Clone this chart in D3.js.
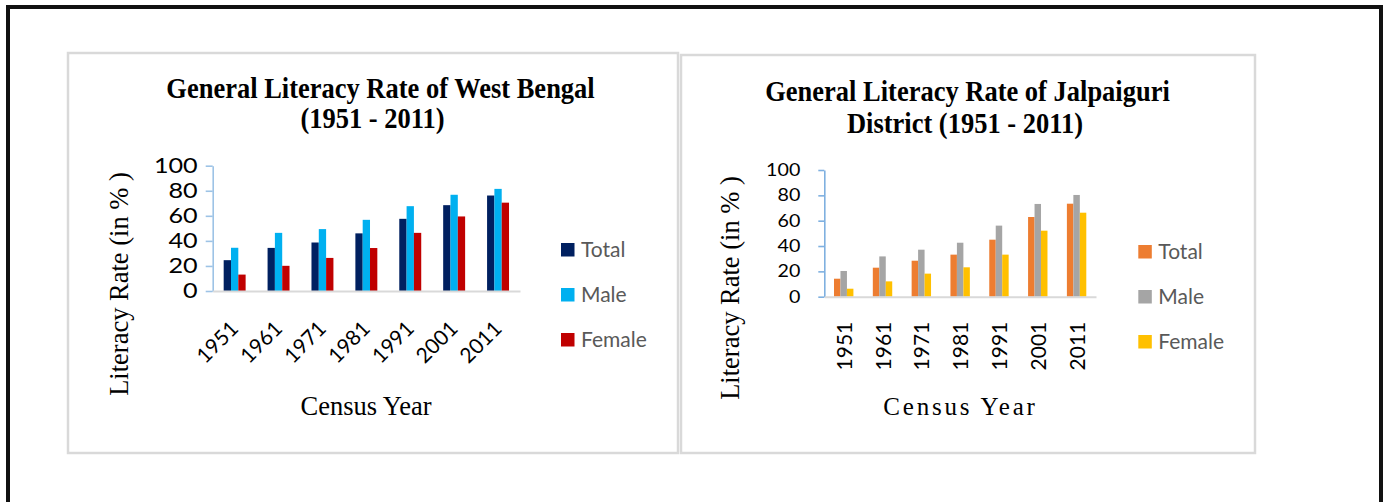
<!DOCTYPE html>
<html lang="en">
<head>
<meta charset="UTF-8" />
<title>Literacy rate charts</title>
<script src="https://d3js.org/d3.v7.min.js"></script>
<style>
    body { margin: 0; background: #fff; }
    .title { font-family: "Liberation Serif", "Times New Roman", serif; font-weight: bold; font-size: 26.5px; fill: #000; }
    .ytitle { font-family: "Liberation Serif", "Times New Roman", serif; font-size: 26.5px; fill: #000; }
    .tick text { font-family: Lato, "Open Sans", sans-serif; fill: #000; }
    .legend text { font-family: Lato, "Open Sans", sans-serif; font-size: 21px; fill: #595959; }
</style>
</head>
<body>
<script>
    // data
    var years = ["1951", "1961", "1971", "1981", "1991", "2001", "2011"];
    var series = ["Total", "Male", "Female"];
    var yTicks = [0, 20, 40, 60, 80, 100];

    // West Bengal
    var wbTotal  = [24.6, 34.4, 38.7, 46.0, 57.6, 68.5, 76.2];
    var wbMale   = [34.5, 46.4, 49.4, 56.8, 67.7, 76.8, 81.5];
    var wbFemale = [13.1, 20.1, 26.4, 34.3, 46.4, 59.5, 70.5];

    // Jalpaiguri district
    var jpTotal  = [14.2, 22.9, 28.4, 33.2, 45.0, 62.9, 73.4];
    var jpMale   = [20.3, 31.8, 37.1, 42.6, 56.1, 73.2, 80.3];
    var jpFemale = [6.3, 12.1, 18.2, 23.2, 33.2, 52.1, 66.3];

    var W = 1385, H = 502;
    var svg = d3.select("body").append("svg")
        .attr("width", W)
        .attr("height", H);

    svg.append("rect").attr("width", W).attr("height", H).attr("fill", "#fff");

    // outer black frame
    svg.append("rect")
        .attr("x", 8).attr("y", 7)
        .attr("width", 1373).attr("height", 600)
        .attr("fill", "none").attr("stroke", "#111").attr("stroke-width", 4);

    function drawChart(c) {
        var g = svg.append("g");

        // panel
        g.append("rect")
            .attr("x", c.panel[0]).attr("y", c.panel[1])
            .attr("width", c.panel[2]).attr("height", c.panel[3])
            .attr("fill", "#fff").attr("stroke", "#d9d9d9").attr("stroke-width", 2.5);

        var rows = years.map(function(y, i) {
            return { year: y, Total: c.values[0][i], Male: c.values[1][i], Female: c.values[2][i] };
        });

        var x = d3.scaleBand().domain(years)
            .range([c.x0, c.x1])
            .paddingInner(0.5).paddingOuter(0.25);
        var xs = d3.scaleBand().domain(series).range([0, x.bandwidth()]);
        var y = d3.scaleLinear().domain([0, 100]).range([c.y0, c.y1]);
        var color = d3.scaleOrdinal().domain(series).range(c.colors);

        // bars
        g.selectAll(".grp")
            .data(rows)
            .enter().append("g")
            .attr("transform", function(d) { return "translate(" + x(d.year) + ",0)"; })
            .selectAll("rect")
            .data(function(d) { return series.map(function(s) { return { key: s, value: d[s] }; }); })
            .enter().append("rect")
            .attr("x", function(d) { return xs(d.key); })
            .attr("y", function(d) { return y(d.value); })
            .attr("width", xs.bandwidth())
            .attr("height", function(d) { return y(0) - y(d.value); })
            .attr("fill", function(d) { return color(d.key); });

        // y axis
        var yAxis = g.append("g")
            .attr("transform", "translate(" + c.x0 + ",0)")
            .call(d3.axisLeft(y).tickValues(yTicks).tickSize(c.tickLen).tickSizeOuter(0).tickPadding(c.yPad));
        yAxis.select(".domain").attr("stroke", c.axisBlue).attr("stroke-width", 1.6);
        yAxis.selectAll(".tick line").attr("stroke", c.axisBlue).attr("stroke-width", 1.6);
        yAxis.selectAll(".tick text")
            .style("font-size", c.yFont + "px")
            .attr("textLength", function(d) { return String(d).length * c.digitW; })
            .attr("lengthAdjust", "spacingAndGlyphs");

        // x axis
        var xAxis = g.append("g")
            .attr("transform", "translate(0," + c.y0 + ")")
            .call(d3.axisBottom(x).tickSize(0).tickSizeOuter(0));
        xAxis.select(".domain").attr("stroke", "#d9d9d9").attr("stroke-width", 2);
        xAxis.selectAll(".tick text")
            .style("font-size", "21px")
            .style("text-anchor", "end")
            .attr("x", 0).attr("y", 0).attr("dy", 0)
            .attr("transform", c.labelTransform);

        // titles (slightly taller glyphs as in the source image)
        g.append("text").attr("class", "title")
            .attr("transform", "translate(" + c.t1[0] + "," + c.t1[1] + ") scale(1,1.12)")
            .attr("text-anchor", "middle").text(c.title[0]);
        g.append("text").attr("class", "title")
            .attr("transform", "translate(" + c.t2[0] + "," + c.t2[1] + ") scale(1,1.12)")
            .attr("text-anchor", "middle").text(c.title[1]);

        g.append("text").attr("class", "ytitle")
            .attr("transform", "translate(" + c.yt[0] + "," + c.yt[1] + ") rotate(-90)")
            .attr("text-anchor", "middle")
            .text("Literacy Rate (in % )");

        g.append("text")
            .attr("x", c.xt[0]).attr("y", c.xt[1])
            .attr("text-anchor", "middle")
            .style("font-family", "'Liberation Serif', 'Times New Roman', serif")
            .style("font-size", c.xtFont + "px")
            .style("letter-spacing", c.xtSpacing + "px")
            .text("Census Year");

        // legend
        var lg = g.append("g").attr("class", "legend")
            .attr("transform", "translate(" + c.legend[0] + "," + c.legend[1] + ")");
        var item = lg.selectAll("g").data(series).enter().append("g")
            .attr("transform", function(d, i) { return "translate(0," + (i * 45) + ")"; });
        item.append("rect")
            .attr("x", 0).attr("y", -14)
            .attr("width", 13.5).attr("height", 13.5)
            .attr("fill", function(d) { return color(d); });
        item.append("text")
            .attr("x", 20).attr("y", 0)
            .text(function(d) { return d; });
    }

    drawChart({
        panel: [68, 53, 610, 400],
        values: [wbTotal, wbMale, wbFemale],
        colors: ["#002060", "#00b0f0", "#c00000"],
        x0: 212.7, x1: 520, y0: 291, y1: 165.7,
        tickLen: 7, yPad: 8, yFont: 21, digitW: 14.6,
        axisBlue: "#9dc3e6",
        labelTransform: "translate(5,39) rotate(-45)",
        title: ["General Literacy Rate of West Bengal", "(1951 - 2011)"],
        t1: [380.5, 98], t2: [372.5, 128],
        yt: [127.5, 284],
        xt: [366, 415], xtFont: 26.5, xtSpacing: 0,
        legend: [561, 257]
    });

    drawChart({
        panel: [681, 55, 574, 398],
        values: [jpTotal, jpMale, jpFemale],
        colors: ["#ed7d31", "#a5a5a5", "#ffc000"],
        x0: 824.3, x1: 1096, y0: 296.7, y1: 170,
        tickLen: 6, yPad: 18, yFont: 17.5, digitW: 11.4,
        axisBlue: "#7fb0e0",
        labelTransform: "translate(8,25) rotate(-90)",
        title: ["General Literacy Rate of Jalpaiguri", "District (1951 - 2011)"],
        t1: [967.5, 101], t2: [965, 133],
        yt: [739, 288],
        xt: [960.5, 415], xtFont: 25, xtSpacing: 2.8,
        legend: [1138.3, 259]
    });
</script>
</body>
</html>
